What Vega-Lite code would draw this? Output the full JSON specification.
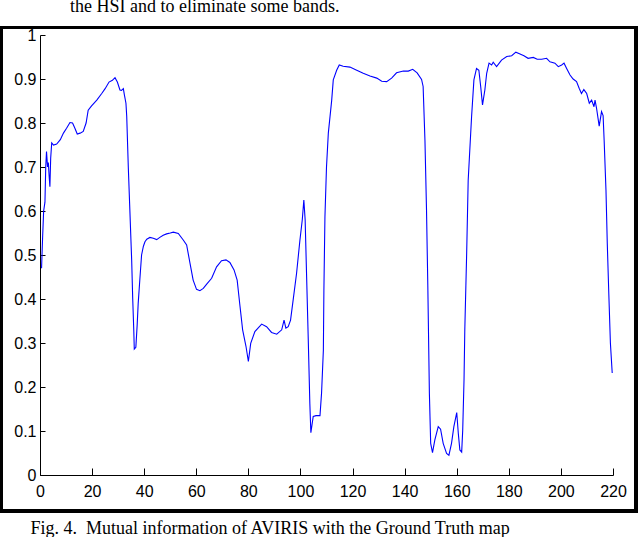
{
  "$schema": "https://vega.github.io/schema/vega-lite/v6.json",
  "width": 573,
  "height": 440,
  "autosize": {"type": "none"},
  "padding": {"left": 40, "top": 35, "right": 27, "bottom": 62},
  "background": "white",
  "title": {
    "text": "the HSI and to eliminate some bands.",
    "font": "Liberation Serif",
    "fontSize": 18,
    "fontWeight": "normal",
    "color": "black",
    "anchor": "start",
    "frame": "group",
    "dx": 30,
    "offset": -4,
    "baseline": "alphabetic"
  },
  "config": {
    "view": {"stroke": null},
    "axis": {
      "grid": false,
      "domainColor": "black",
      "domainWidth": 1,
      "tickColor": "black",
      "labelColor": "black",
      "labelFont": "Liberation Sans",
      "labelFontSize": 16
    }
  },
  "data": {
    "values": [
      {"band": 0.6, "mi": 0.470}, {"band": 1.0, "mi": 0.54}, {"band": 1.4, "mi": 0.60}, {"band": 1.9, "mi": 0.62},
      {"band": 2.2, "mi": 0.70}, {"band": 2.5, "mi": 0.735}, {"band": 2.9, "mi": 0.70}, {"band": 3.2, "mi": 0.71},
      {"band": 3.5, "mi": 0.68}, {"band": 3.8, "mi": 0.655}, {"band": 4.1, "mi": 0.72}, {"band": 4.5, "mi": 0.755},
      {"band": 5.2, "mi": 0.750}, {"band": 6.4, "mi": 0.752}, {"band": 7.8, "mi": 0.762}, {"band": 9.0, "mi": 0.777},
      {"band": 10.2, "mi": 0.788}, {"band": 11.5, "mi": 0.801}, {"band": 12.5, "mi": 0.800}, {"band": 13.4, "mi": 0.788},
      {"band": 14.3, "mi": 0.775}, {"band": 15.4, "mi": 0.777}, {"band": 16.6, "mi": 0.781}, {"band": 17.7, "mi": 0.800},
      {"band": 18.5, "mi": 0.829}, {"band": 19.8, "mi": 0.839}, {"band": 21.8, "mi": 0.852}, {"band": 23.7, "mi": 0.867},
      {"band": 25.0, "mi": 0.878}, {"band": 26.5, "mi": 0.893}, {"band": 27.8, "mi": 0.897}, {"band": 28.8, "mi": 0.903},
      {"band": 29.7, "mi": 0.893}, {"band": 30.7, "mi": 0.875}, {"band": 31.3, "mi": 0.874}, {"band": 32.0, "mi": 0.878},
      {"band": 32.4, "mi": 0.864}, {"band": 33.0, "mi": 0.845}, {"band": 33.3, "mi": 0.815}, {"band": 33.9, "mi": 0.700},
      {"band": 34.5, "mi": 0.602}, {"band": 35.2, "mi": 0.488}, {"band": 35.6, "mi": 0.40}, {"band": 36.0, "mi": 0.33},
      {"band": 36.2, "mi": 0.286}, {"band": 36.8, "mi": 0.290}, {"band": 37.3, "mi": 0.34}, {"band": 37.7, "mi": 0.390},
      {"band": 38.4, "mi": 0.450}, {"band": 39.0, "mi": 0.500}, {"band": 39.7, "mi": 0.520}, {"band": 40.3, "mi": 0.530},
      {"band": 41.0, "mi": 0.536}, {"band": 42.2, "mi": 0.540}, {"band": 43.5, "mi": 0.538}, {"band": 44.8, "mi": 0.535},
      {"band": 46.0, "mi": 0.540}, {"band": 47.3, "mi": 0.545}, {"band": 48.6, "mi": 0.548}, {"band": 50.0, "mi": 0.550},
      {"band": 51.2, "mi": 0.552}, {"band": 53.1, "mi": 0.549}, {"band": 55.0, "mi": 0.534}, {"band": 56.3, "mi": 0.523},
      {"band": 57.6, "mi": 0.481}, {"band": 58.8, "mi": 0.443}, {"band": 60.1, "mi": 0.422}, {"band": 61.4, "mi": 0.419},
      {"band": 62.7, "mi": 0.424}, {"band": 64.0, "mi": 0.434}, {"band": 65.9, "mi": 0.447}, {"band": 67.8, "mi": 0.473},
      {"band": 69.7, "mi": 0.487}, {"band": 71.4, "mi": 0.489}, {"band": 72.9, "mi": 0.483}, {"band": 74.5, "mi": 0.466},
      {"band": 75.7, "mi": 0.443}, {"band": 76.8, "mi": 0.383}, {"band": 77.8, "mi": 0.330}, {"band": 79.1, "mi": 0.292},
      {"band": 80.0, "mi": 0.258}, {"band": 80.9, "mi": 0.299}, {"band": 82.5, "mi": 0.326}, {"band": 85.1, "mi": 0.343},
      {"band": 87.0, "mi": 0.337}, {"band": 88.9, "mi": 0.324}, {"band": 90.9, "mi": 0.320}, {"band": 92.8, "mi": 0.330},
      {"band": 93.7, "mi": 0.352}, {"band": 94.4, "mi": 0.334}, {"band": 95.3, "mi": 0.337}, {"band": 96.2, "mi": 0.352},
      {"band": 97.2, "mi": 0.398}, {"band": 98.5, "mi": 0.458}, {"band": 99.8, "mi": 0.534}, {"band": 100.7, "mi": 0.580},
      {"band": 101.3, "mi": 0.625}, {"band": 101.8, "mi": 0.580}, {"band": 102.4, "mi": 0.443}, {"band": 103.0, "mi": 0.307},
      {"band": 103.6, "mi": 0.163}, {"band": 104.0, "mi": 0.096}, {"band": 104.9, "mi": 0.133}, {"band": 106.0, "mi": 0.135},
      {"band": 107.5, "mi": 0.135}, {"band": 108.1, "mi": 0.186}, {"band": 108.8, "mi": 0.284}, {"band": 109.0, "mi": 0.42},
      {"band": 109.4, "mi": 0.587}, {"band": 110.0, "mi": 0.700}, {"band": 110.7, "mi": 0.777}, {"band": 112.0, "mi": 0.852},
      {"band": 112.6, "mi": 0.898}, {"band": 113.9, "mi": 0.920}, {"band": 114.9, "mi": 0.932}, {"band": 116.4, "mi": 0.929},
      {"band": 119.0, "mi": 0.927}, {"band": 121.6, "mi": 0.920}, {"band": 124.1, "mi": 0.913}, {"band": 126.7, "mi": 0.907},
      {"band": 129.3, "mi": 0.902}, {"band": 131.2, "mi": 0.895}, {"band": 133.1, "mi": 0.894}, {"band": 135.0, "mi": 0.902},
      {"band": 136.9, "mi": 0.914}, {"band": 139.5, "mi": 0.918}, {"band": 141.4, "mi": 0.918}, {"band": 143.1, "mi": 0.922},
      {"band": 144.8, "mi": 0.914}, {"band": 146.5, "mi": 0.899}, {"band": 147.1, "mi": 0.883}, {"band": 147.8, "mi": 0.761},
      {"band": 148.4, "mi": 0.602}, {"band": 148.9, "mi": 0.43}, {"band": 149.5, "mi": 0.186}, {"band": 150.0, "mi": 0.072},
      {"band": 150.7, "mi": 0.051}, {"band": 151.6, "mi": 0.080}, {"band": 152.9, "mi": 0.110}, {"band": 153.8, "mi": 0.104},
      {"band": 154.8, "mi": 0.072}, {"band": 156.1, "mi": 0.049}, {"band": 157.0, "mi": 0.045}, {"band": 158.0, "mi": 0.072},
      {"band": 158.9, "mi": 0.110}, {"band": 160.0, "mi": 0.142}, {"band": 160.6, "mi": 0.095}, {"band": 161.2, "mi": 0.057},
      {"band": 161.9, "mi": 0.052}, {"band": 162.3, "mi": 0.102}, {"band": 162.8, "mi": 0.216}, {"band": 163.1, "mi": 0.330},
      {"band": 163.8, "mi": 0.500}, {"band": 164.4, "mi": 0.670}, {"band": 165.7, "mi": 0.814}, {"band": 166.6, "mi": 0.898},
      {"band": 167.6, "mi": 0.924}, {"band": 168.5, "mi": 0.920}, {"band": 169.2, "mi": 0.883}, {"band": 169.9, "mi": 0.841},
      {"band": 170.8, "mi": 0.875}, {"band": 171.5, "mi": 0.913}, {"band": 172.4, "mi": 0.936}, {"band": 173.4, "mi": 0.932},
      {"band": 174.0, "mi": 0.938}, {"band": 175.3, "mi": 0.928}, {"band": 177.2, "mi": 0.943}, {"band": 179.2, "mi": 0.951},
      {"band": 181.1, "mi": 0.953}, {"band": 182.7, "mi": 0.961}, {"band": 184.3, "mi": 0.957}, {"band": 185.8, "mi": 0.953},
      {"band": 187.4, "mi": 0.947}, {"band": 189.4, "mi": 0.949}, {"band": 190.9, "mi": 0.945}, {"band": 192.6, "mi": 0.945},
      {"band": 194.5, "mi": 0.947}, {"band": 195.8, "mi": 0.939}, {"band": 197.7, "mi": 0.936}, {"band": 199.0, "mi": 0.928},
      {"band": 200.3, "mi": 0.932}, {"band": 201.2, "mi": 0.936}, {"band": 202.2, "mi": 0.924}, {"band": 203.5, "mi": 0.909},
      {"band": 204.7, "mi": 0.900}, {"band": 206.0, "mi": 0.894}, {"band": 207.0, "mi": 0.879}, {"band": 207.9, "mi": 0.867},
      {"band": 208.8, "mi": 0.876}, {"band": 209.9, "mi": 0.867}, {"band": 210.9, "mi": 0.845}, {"band": 211.8, "mi": 0.852},
      {"band": 212.7, "mi": 0.837}, {"band": 213.1, "mi": 0.852}, {"band": 213.7, "mi": 0.833}, {"band": 214.7, "mi": 0.793},
      {"band": 215.6, "mi": 0.826}, {"band": 216.2, "mi": 0.817}, {"band": 216.6, "mi": 0.761}, {"band": 217.3, "mi": 0.648},
      {"band": 217.8, "mi": 0.527}, {"band": 218.4, "mi": 0.41}, {"band": 219.0, "mi": 0.30}, {"band": 219.7, "mi": 0.232}
    ]
  },
  "layer": [
    {
      "mark": {"type": "rect", "filled": false, "stroke": "black", "strokeWidth": 3},
      "encoding": {
        "x": {"datum": -14.97, "type": "quantitative"},
        "x2": {"datum": 228.98},
        "y": {"datum": 1.017, "type": "quantitative"},
        "y2": {"datum": -0.082}
      }
    },
    {
      "mark": {"type": "line", "color": "#0000ff", "strokeWidth": 1.1},
      "encoding": {
        "x": {
          "field": "band",
          "type": "quantitative",
          "scale": {"domain": [0, 220], "nice": false, "zero": false},
          "axis": {
            "values": [0, 20, 40, 60, 80, 100, 120, 140, 160, 180, 200, 220],
            "format": "d",
            "tickSize": -7,
            "labelPadding": 15,
            "labelFlush": false,
            "title": "Fig. 4.\u00a0 Mutual information of AVIRIS with the Ground Truth map",
            "titleFont": "Liberation Serif",
            "titleFontSize": 18,
            "titleFontWeight": "normal",
            "titleColor": "black",
            "titleAnchor": "start",
            "titleAlign": "left",
            "titleBaseline": "alphabetic",
            "titleX": -10,
            "titleY": 58
          }
        },
        "y": {
          "field": "mi",
          "type": "quantitative",
          "scale": {"domain": [0, 1], "nice": false, "zero": false},
          "axis": {
            "values": [0, 0.1, 0.2, 0.3, 0.4, 0.5, 0.6, 0.7, 0.8, 0.9, 1],
            "format": ".1~f",
            "tickSize": -5,
            "labelPadding": 9,
            "labelFlush": false,
            "title": null
          }
        }
      }
    }
  ]
}
